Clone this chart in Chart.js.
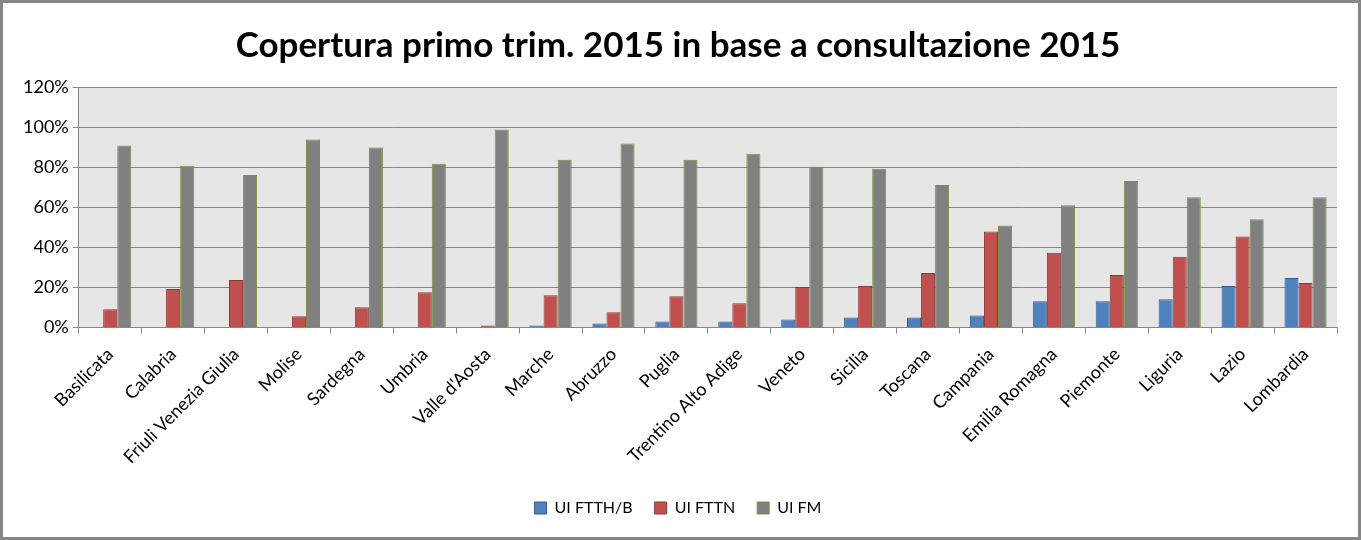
<!DOCTYPE html>
<html>
<head>
<meta charset="utf-8">
<script src="https://cdn.jsdelivr.net/npm/chart.js@4"></script>
<style>
  html, body { margin: 0; padding: 0; background: #fff; }
  #wrap { width: 1361px; height: 540px; box-sizing: border-box; border: 3px solid #868686; position: relative; }
</style>
</head>
<body>
<div id="wrap"><canvas id="myChart"></canvas></div>
<script>
const regions = ['Basilicata', 'Calabria', 'Friuli Venezia Giulia', 'Molise', 'Sardegna', 'Umbria',
  "Valle d'Aosta", 'Marche', 'Abruzzo', 'Puglia', 'Trentino Alto Adige', 'Veneto', 'Sicilia',
  'Toscana', 'Campania', 'Emilia Romagna', 'Piemonte', 'Liguria', 'Lazio', 'Lombardia'];

const ftthB = [0, 0, 0, 0, 0, 0, 0, 1, 2, 3, 3, 4, 5, 5, 6, 13.1, 13.1, 14.1, 20.7, 24.7];
const fttn = [9.1, 19.2, 23.7, 5.7, 10.2, 17.6, 1, 16.1, 7.6, 15.6, 12.1, 20.2, 20.7, 27.2, 47.9, 37.3, 26.2, 35.3, 45.4, 22.2];
const fm = [90.8, 80.7, 76.1, 93.8, 89.8, 81.7, 98.8, 83.7, 91.8, 83.7, 86.7, 80.2, 79.2, 71.1, 50.9, 61, 73.1, 65, 54, 65];

const yTicks = [0, 20, 40, 60, 80, 100, 120];

const plotBackground = {
    id: 'plotBackground',
    beforeDraw(chart) {
        const a = chart.chartArea;
        const c = chart.ctx;
        c.save();
        c.fillStyle = '#e6e6e6';
        c.fillRect(a.left, a.top, a.right - a.left, a.bottom - a.top);
        c.restore();
    }
};

document.addEventListener("DOMContentLoaded", function() {
    const ctx = document.getElementById('myChart').getContext('2d');

    new Chart(ctx, {
        type: 'bar',
        data: {
            labels: regions,
            datasets: [
                {
                    label: 'UI FTTH/B',
                    data: ftthB,
                    backgroundColor: '#4f81bd',
                    borderColor: '#385d8a',
                    borderWidth: 1
                },
                {
                    label: 'UI FTTN',
                    data: fttn,
                    backgroundColor: '#c0504d',
                    borderColor: '#8c3836',
                    borderWidth: 1
                },
                {
                    label: 'UI FM',
                    data: fm,
                    backgroundColor: '#808080',
                    borderColor: '#77933c',
                    borderWidth: 1
                }
            ]
        },
        options: {
            responsive: true,
            maintainAspectRatio: false,
            animation: false,
            layout: {
                padding: { left: 16, right: 21, top: 0, bottom: 11 }
            },
            datasets: {
                bar: {
                    categoryPercentage: 0.67,
                    barPercentage: 1
                }
            },
            scales: {
                x: {
                    grid: {
                        offset: true,
                        drawOnChartArea: false,
                        drawTicks: true,
                        tickLength: 6,
                        color: '#868686'
                    },
                    border: { color: '#868686', width: 1 },
                    ticks: {
                        autoSkip: false,
                        minRotation: 45,
                        maxRotation: 45,
                        color: '#000',
                        padding: 10,
                        font: { family: 'Lato', size: 18 }
                    }
                },
                y: {
                    min: 0,
                    max: 120,
                    afterBuildTicks: function(axis) {
                        axis.ticks = yTicks.map(v => ({ value: v }));
                    },
                    grid: {
                        color: '#868686',
                        tickLength: 6
                    },
                    border: { color: '#868686', width: 1 },
                    ticks: {
                        color: '#000',
                        padding: 4,
                        callback: v => v + '%',
                        font: { family: 'Lato', size: 18 }
                    }
                }
            },
            plugins: {
                title: {
                    display: true,
                    text: 'Copertura primo trim. 2015 in base a consultazione 2015',
                    color: '#000',
                    font: { family: 'Lato', size: 35, weight: 'bold' },
                    padding: { top: 22, bottom: 20 }
                },
                legend: {
                    display: true,
                    position: 'bottom',
                    labels: {
                        boxWidth: 12,
                        boxHeight: 12,
                        color: '#000',
                        padding: 22,
                        font: { family: 'Lato', size: 16 }
                    }
                },
                tooltip: { enabled: false }
            }
        },
        plugins: [plotBackground]
    });
});
</script>
</body>
</html>
